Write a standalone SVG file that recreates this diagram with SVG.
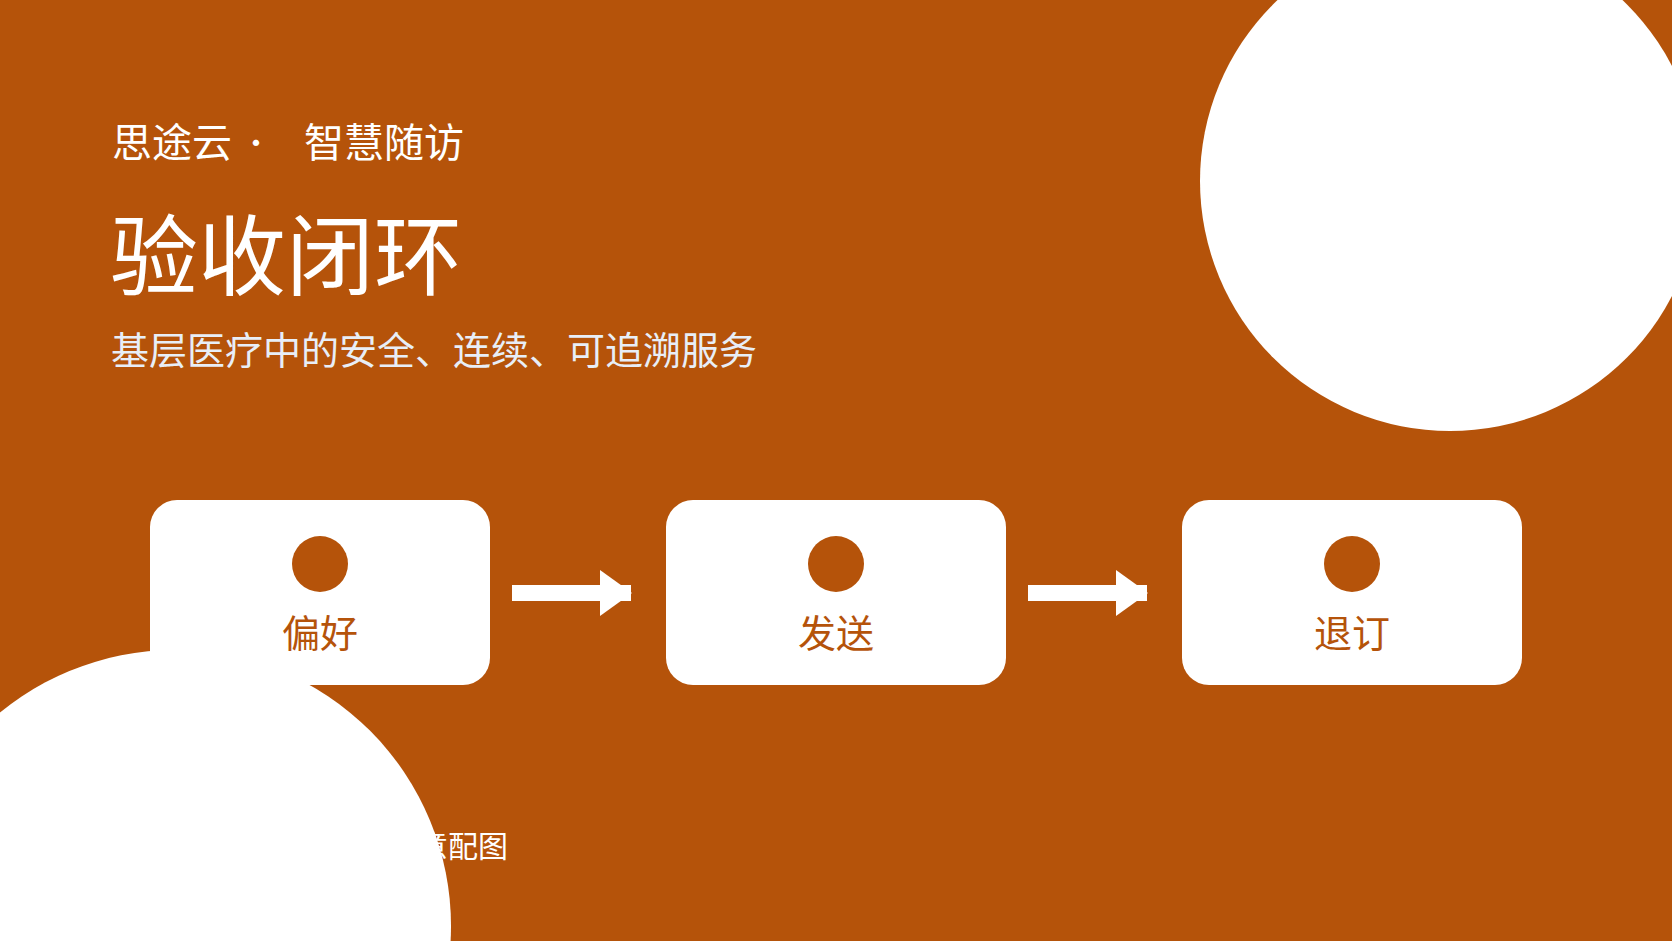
<svg xmlns="http://www.w3.org/2000/svg" width="1672" height="941" viewBox="0 0 1672 941">
<style>
text{font-family:"Noto Sans CJK SC","Noto Sans",sans-serif}
.bg{fill:#B5530A}
.deco{fill:#FFFFFF}
.box{fill:#FFFFFF}
.dot{fill:#B5530A}
.lbl{fill:#B5530A;font-size:38px;text-anchor:middle}
.hdr{fill:#FFFFFF;font-size:40px}
.ttl{fill:#FFFFFF;font-size:88px;font-weight:400}
.sub{fill:#E8EEF7;font-size:38px}
.foot{fill:#FFFFFF;font-size:30px;text-anchor:end}
.shaft{stroke:#FFFFFF;stroke-width:16;fill:none}
.head{fill:#FFFFFF}
</style>
<rect class="bg" x="0" y="0" width="1672" height="941"/>
<g id="header">
<text class="hdr" x="112" y="157">思途云<tspan x="256" y="154" text-anchor="middle" font-size="30">·</tspan><tspan x="304" y="157">智慧随访</tspan></text>
<text class="ttl" x="110" y="288">验收闭环</text>
<text class="sub" x="111" y="364">基层医疗中的安全、连续、可追溯服务</text>
</g>
<text id="footer" class="foot" x="508" y="857">示意配图</text>
<circle class="deco" cx="1450" cy="181" r="250"/>
<circle class="deco" cx="175" cy="926" r="276"/>
<g id="connectors">
<line class="shaft" x1="512" y1="593" x2="631" y2="593"/>
<polygon class="head" points="600,570 632,593 600,616"/>
<line class="shaft" x1="1028" y1="593" x2="1147" y2="593"/>
<polygon class="head" points="1116,570 1148,593 1116,616"/>
</g>
<g id="node-pianhao">
<rect class="box" x="150" y="500" width="340" height="185" rx="27"/>
<circle class="dot" cx="320" cy="564" r="28"/>
<text class="lbl" x="320" y="647">偏好</text>
</g>
<g id="node-fasong">
<rect class="box" x="666" y="500" width="340" height="185" rx="27"/>
<circle class="dot" cx="836" cy="564" r="28"/>
<text class="lbl" x="836" y="647">发送</text>
</g>
<g id="node-tuiding">
<rect class="box" x="1182" y="500" width="340" height="185" rx="27"/>
<circle class="dot" cx="1352" cy="564" r="28"/>
<text class="lbl" x="1352" y="647">退订</text>
</g>
</svg>
